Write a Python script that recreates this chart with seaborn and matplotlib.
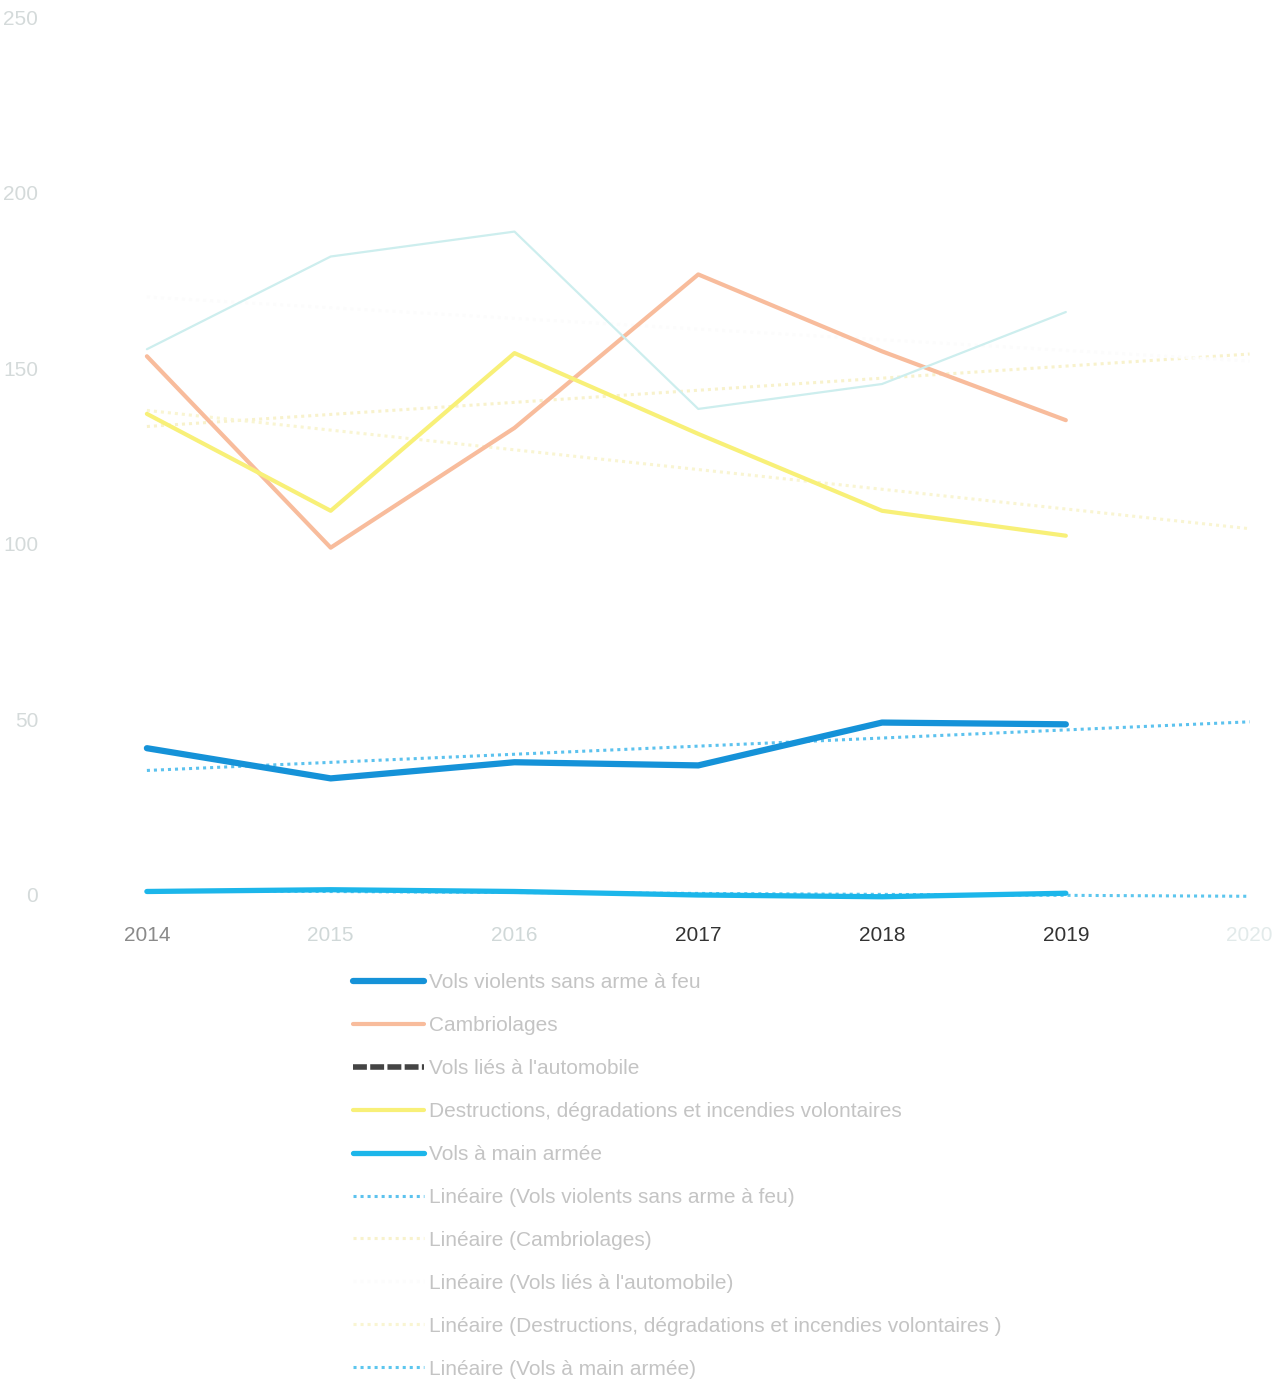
import numpy as np
import pandas as pd
import matplotlib
matplotlib.use("Agg")
import matplotlib.pyplot as plt
from matplotlib.lines import Line2D
import seaborn as sns

years = [2014, 2015, 2016, 2017, 2018, 2019]
vols_violents = [41.8, 33.2, 37.8, 36.9, 49.1, 48.6]
cambriolages = [153.4, 98.9, 133.0, 176.7, 154.8, 135.2]
vols_auto = [155.4, 181.8, 188.9, 138.4, 145.5, 166.0]
destructions = [137.0, 109.4, 154.3, 131.3, 109.4, 102.3]
vols_main_armee = [1.0, 1.5, 1.0, 0.0, -0.5, 0.5]

series_names = [
    "Vols violents sans arme à feu",
    "Cambriolages",
    "Vols liés à l'automobile",
    "Destructions, dégradations et incendies volontaires",
    "Vols à main armée",
]
trend_names = [
    "Linéaire (Vols violents sans arme à feu)",
    "Linéaire (Cambriolages)",
    "Linéaire (Vols liés à l'automobile)",
    "Linéaire (Destructions, dégradations et incendies volontaires )",
    "Linéaire (Vols à main armée)",
]
x_ticks = [2014, 2015, 2016, 2017, 2018, 2019, 2020]
y_ticks = [0, 50, 100, 150, 200, 250]

sns.set_style("white")
plt.rcParams["font.family"] = ["Liberation Sans", "DejaVu Sans"]

fig = plt.figure(figsize=(12.85, 13.84), dpi=100)
ax = fig.add_axes([55 / 1285, 1 - 895 / 1384, 1213 / 1285, 878 / 1384])

all_series = [vols_violents, cambriolages, vols_auto, destructions, vols_main_armee]
line_colors = ["#1592d8", "#f8bc9c", "#cdeeee", "#f8f078", "#1cb6ea"]
line_widths = [4.5, 3.0, 1.6, 3.0, 3.8]
legend_colors = ["#1592d8", "#f8bc9c", "#444444", "#f8f078", "#1cb6ea"]
legend_styles = ["-", "-", (0, (2.5, 0.6)), "-", "-"]
trend_colors = ["#5cc2ee", "#f8f2cc", "#fcfcfc", "#f9f5d2", "#5cc6ee"]

# trend lines (least squares), extended one year like Excel's forecast
trend_years = years + [2020]
for vals, c in zip(all_series, trend_colors):
    slope, inter = np.polyfit(years, vals, 1)
    df = pd.DataFrame({"year": trend_years,
                       "value": [slope * y + inter for y in trend_years]})
    sns.lineplot(data=df, x="year", y="value", ax=ax, color=c, lw=2.2,
                 linestyle=(0, (1, 1.3)), clip_on=False, zorder=2)

for vals, c, lw in zip(all_series, line_colors, line_widths):
    df = pd.DataFrame({"year": years, "value": vals})
    sns.lineplot(data=df, x="year", y="value", ax=ax, color=c, lw=lw,
                 clip_on=False, zorder=3)

ax.set_xlim(2013.5, 2020.1)
ax.set_ylim(0, 250)
ax.set_xticks(x_ticks)
ax.set_yticks(y_ticks)
ax.set_xticklabels([str(y) for y in x_ticks], fontsize=15)
ax.set_yticklabels([str(v) for v in y_ticks], fontsize=15, color="#d4dada")
tick_colors = ["#8a8a8a", "#d0d8d8", "#d0d8d8", "#333333", "#333333", "#333333", "#e2eaea"]
for lab, c in zip(ax.get_xticklabels(), tick_colors):
    lab.set_color(c)
ax.tick_params(axis="x", length=0, pad=22)
ax.tick_params(axis="y", length=0, pad=12)
ax.set_xlabel("")
ax.set_ylabel("")
for s in ax.spines.values():
    s.set_visible(False)

handles = [Line2D([], [], color=c, lw=lw if lw > 2 else 4, linestyle=ls)
           for c, lw, ls in zip(legend_colors, line_widths, legend_styles)]
handles += [Line2D([], [], color=c, lw=2.2, linestyle=(0, (1, 1.3)))
            for c in trend_colors]
leg = fig.legend(handles, series_names + trend_names, loc="upper left",
                 bbox_to_anchor=(353 / 1285, 1 - 973 / 1384), frameon=False,
                 fontsize=15, handlelength=3.4, handletextpad=0.25,
                 labelspacing=1.15, borderpad=0, borderaxespad=0)
for t in leg.get_texts():
    t.set_color("#c4c4c4")

fig.savefig("out.png", dpi=100, facecolor="white")
